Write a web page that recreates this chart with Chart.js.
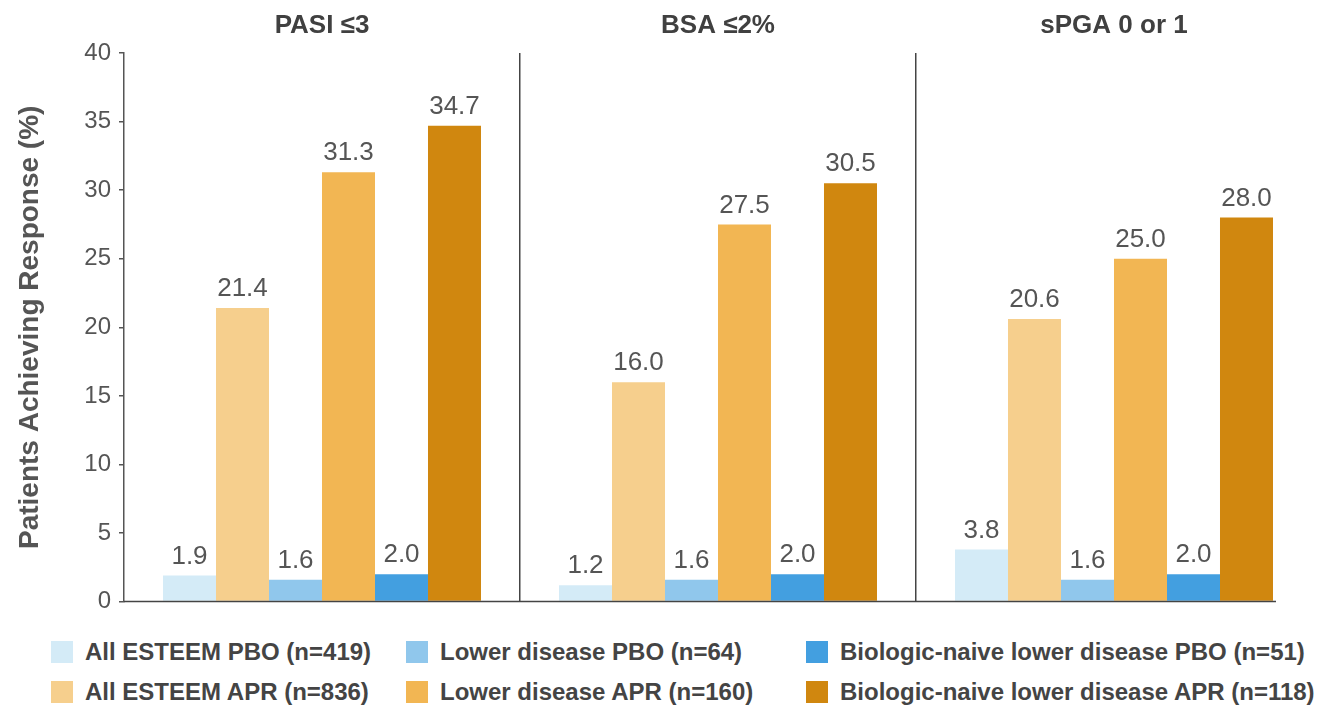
<!DOCTYPE html>
<html>
<head>
<meta charset="utf-8">
<script src="https://cdn.jsdelivr.net/npm/chart.js@4.4.1/dist/chart.umd.min.js"></script>
<style>
body { margin: 0; background: #fff; width: 1321px; height: 711px; overflow: hidden; font-family: 'Liberation Sans', Arial, sans-serif; }
#wrap { position: relative; width: 1321px; height: 624px; }
#legend { position: relative; width: 1321px; height: 87px; }
.item { position: absolute; display: flex; align-items: center; height: 26px; font-weight: bold; font-size: 24px; color: #444; white-space: nowrap; }
.box { width: 22px; height: 22px; margin-right: 12px; }
</style>
</head>
<body>
<div id="wrap"><canvas id="chart" width="1321" height="624"></canvas></div>
<div id="legend"></div>
<script>
// groups and series
var groups = ['PASI ≤3', 'BSA ≤2%', 'sPGA 0 or 1'];
var allPbo   = [1.9, 1.2, 3.8];
var allApr   = [21.4, 16.0, 20.6];
var lowerPbo = [1.6, 1.6, 1.6];
var lowerApr = [31.3, 27.5, 25.0];
var naivePbo = [2.0, 2.0, 2.0];
var naiveApr = [34.7, 30.5, 28.0];

var seriesNames = ['All ESTEEM PBO (n=419)', 'All ESTEEM APR (n=836)',
                   'Lower disease PBO (n=64)', 'Lower disease APR (n=160)',
                   'Biologic-naive lower disease PBO (n=51)', 'Biologic-naive lower disease APR (n=118)'];
var seriesValues = [allPbo, allApr, lowerPbo, lowerApr, naivePbo, naiveApr];
var seriesColors = ['#d4ebf7', '#f6cf8d', '#90c7ec', '#f2b653', '#439fe0', '#d0870f'];

var yMax = 40;
var yStep = 5;

// value labels over bars + short baseline
var barLabels = {
    id: 'barLabels',
    afterDatasetsDraw: function(chart) {
        var ctx = chart.ctx;
        ctx.save();
        ctx.font = '26px "Liberation Sans", Arial, sans-serif';
        ctx.fillStyle = '#555';
        ctx.textAlign = 'center';
        ctx.textBaseline = 'bottom';
        var lastRight = chart.chartArea.left;
        chart.data.datasets.forEach(function(ds, i) {
            chart.getDatasetMeta(i).data.forEach(function(bar, j) {
                ctx.fillText(ds.data[j].toFixed(1), bar.x, bar.y - 6);
                lastRight = Math.max(lastRight, bar.x + bar.width / 2);
            });
        });
        ctx.strokeStyle = '#444';
        ctx.lineWidth = 1.5;
        ctx.beginPath();
        ctx.moveTo(chart.chartArea.left, chart.chartArea.bottom);
        ctx.lineTo(lastRight + 3, chart.chartArea.bottom);
        ctx.stroke();
        ctx.restore();
    }
};

var ctx = document.getElementById('chart').getContext('2d');
var chart = new Chart(ctx, {
    type: 'bar',
    data: {
        labels: groups,
        datasets: seriesNames.map(function(name, i) {
            return {
                label: name,
                data: seriesValues[i],
                backgroundColor: seriesColors[i],
                borderWidth: 0,
                barPercentage: 1,
                categoryPercentage: 0.803
            };
        })
    },
    options: {
        responsive: false,
        animation: false,
        layout: { padding: { left: 0, right: 9, top: 0, bottom: 0 } },
        plugins: { legend: { display: false }, tooltip: { enabled: false } },
        scales: {
            x: {
                offset: true,
                grid: {
                    offset: true,
                    drawTicks: false,
                    lineWidth: 1.5,
                    color: function(c) { return (c.index === 1 || c.index === 2) ? '#444' : 'rgba(0,0,0,0)'; }
                },
                border: { display: false },
                ticks: { display: false },
                afterFit: function(s) { s.height = 11; }
            },
            x2: {
                type: 'category',
                position: 'top',
                labels: groups,
                offset: true,
                grid: { display: false, drawTicks: false },
                border: { display: false },
                ticks: { color: '#404040', padding: 12, font: { family: '"Liberation Sans", Arial, sans-serif', size: 26, weight: 'bold' } },
                afterFit: function(s) { s.height = 53; }
            },
            y: {
                min: 0,
                max: yMax,
                ticks: { stepSize: yStep, color: '#555', padding: 8, font: { family: '"Liberation Sans", Arial, sans-serif', size: 24 } },
                grid: { drawOnChartArea: false, tickLength: 5, color: '#555', lineWidth: 1.5 },
                border: { color: '#555', width: 1.5 },
                title: {
                    display: true,
                    text: 'Patients Achieving Response (%)',
                    color: '#555',
                    padding: { top: 13, bottom: 0 },
                    font: { family: '"Liberation Sans", Arial, sans-serif', size: 28, weight: 'bold' }
                },
                afterFit: function(s) { s.width = 124; }
            }
        }
    },
    plugins: [barLabels]
});

// legend: placebo row on top, apremilast row below
var legendCols = [51, 406, 806];
var legendRows = [15, 55];
var legendEl = document.getElementById('legend');
seriesNames.forEach(function(name, i) {
    var item = document.createElement('div');
    item.className = 'item';
    item.style.left = legendCols[Math.floor(i / 2)] + 'px';
    item.style.top = legendRows[i % 2] + 'px';
    var box = document.createElement('span');
    box.className = 'box';
    box.style.background = seriesColors[i];
    item.appendChild(box);
    item.appendChild(document.createTextNode(name));
    legendEl.appendChild(item);
});
</script>
</body>
</html>
